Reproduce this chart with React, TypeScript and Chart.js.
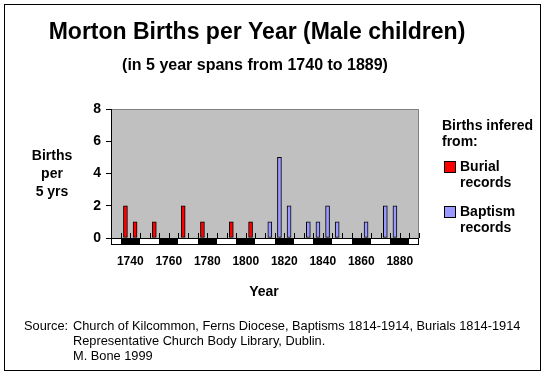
import React, { useEffect, useRef } from 'react';
import { Chart, registerables } from 'chart.js';

Chart.register(...registerables);

// ---- data ----
const categories = [
  '1735', '1740', '1745', '1750', '1755', '1760', '1765', '1770',
  '1775', '1780', '1785', '1790', '1795', '1800', '1805', '1810',
  '1815', '1820', '1825', '1830', '1835', '1840', '1845', '1850',
  '1855', '1860', '1865', '1870', '1875', '1880', '1885', '1890',
];
const burialRecords = [
  0, 2, 1, 0, 1, 0, 0, 2,
  0, 1, 0, 0, 1, 0, 1, 0,
  0, 0, 0, 0, 0, 0, 0, 0,
  0, 0, 0, 0, 0, 0, 0, 0,
];
const baptismRecords = [
  0, 0, 0, 0, 0, 0, 0, 0,
  0, 0, 0, 0, 0, 0, 0, 0,
  1, 5, 2, 0, 1, 1, 2, 1,
  0, 0, 1, 0, 2, 2, 0, 0,
];
const decadeLabels = ['1740', '1760', '1780', '1800', '1820', '1840', '1860', '1880'];
const yMin = 0;
const yMax = 8;
const yStep = 2;

const titleText = 'Morton Births per Year (Male children)';
const subtitleText = '(in 5 year spans from 1740 to 1889)';
const yTitleLines = ['Births', 'per', '5 yrs'];
const xTitleText = 'Year';
const legendTitleLines = ['Births infered', 'from:'];
const seriesNames = [['Burial', 'records'], ['Baptism', 'records']];
const seriesColors = ['#FF0000', '#9999FF'];
const sourceLabel = 'Source:';
const sourceLines = [
  'Church of Kilcommon, Ferns Diocese, Baptisms 1814-1914, Burials 1814-1914',
  'Representative Church Body Library, Dublin.',
  'M. Bone 1999',
];

const FONT = '"Liberation Sans", Arial, Helvetica, sans-serif';

const decor = {
  id: 'decor',
  beforeDraw(chart: any) {
    const { ctx, chartArea: a } = chart;
    ctx.save();
    ctx.fillStyle = '#ffffff';
    ctx.fillRect(0, 0, chart.width, chart.height);
    ctx.strokeStyle = '#000000';
    ctx.lineWidth = 1;
    ctx.strokeRect(4.5, 4.5, 536, 366);
    ctx.fillStyle = '#C0C0C0';
    ctx.fillRect(a.left, a.top, a.right - a.left, a.bottom - a.top);
    ctx.strokeStyle = '#808080';
    ctx.beginPath();
    ctx.moveTo(a.left, a.top + 0.5);
    ctx.lineTo(a.right - 0.5, a.top + 0.5);
    ctx.lineTo(a.right - 0.5, a.bottom);
    ctx.stroke();
    ctx.restore();
  },
  afterDatasetsDraw(chart: any) {
    const { ctx, chartArea: a } = chart;
    const xs = chart.scales.x;
    const half = (xs.getPixelForValue(1) - xs.getPixelForValue(0)) / 2;
    ctx.save();
    // decade band
    const bandTop = Math.round(a.bottom);
    const bandH = 6;
    categories.forEach((c, i) => {
      const cx = xs.getPixelForValue(i);
      const x0 = Math.round(cx - half);
      const x1 = Math.round(cx + half);
      const yr = parseInt(c, 10);
      ctx.fillStyle = Math.floor(yr / 10) % 2 === 0 ? '#000000' : '#ffffff';
      ctx.fillRect(x0, bandTop, x1 - x0, bandH);
    });
    ctx.strokeStyle = '#000000';
    ctx.lineWidth = 1;
    ctx.strokeRect(Math.round(a.left) + 0.5, bandTop + 0.5, Math.round(a.right - a.left) - 1, bandH);
    // axis line
    ctx.beginPath();
    ctx.moveTo(a.left, bandTop + 0.5);
    ctx.lineTo(a.right, bandTop + 0.5);
    ctx.stroke();
    // category tick marks (inside)
    ctx.beginPath();
    for (let i = 0; i < categories.length; i++) {
      const x = Math.round(xs.getPixelForValue(i) + half) + 0.5;
      ctx.moveTo(x, bandTop - 5);
      ctx.lineTo(x, bandTop);
    }
    ctx.stroke();

    ctx.fillStyle = '#000000';
    ctx.textBaseline = 'middle';
    // decade labels
    ctx.textAlign = 'center';
    ctx.font = `bold 12px ${FONT}`;
    decadeLabels.forEach((lab) => {
      const i = categories.indexOf(lab);
      const x = (xs.getPixelForValue(i) + xs.getPixelForValue(i + 1)) / 2;
      ctx.fillText(lab, x, 262);
    });
    // titles
    ctx.font = `bold 23px ${FONT}`;
    ctx.fillText(titleText, 257, 33);
    ctx.font = `bold 16px ${FONT}`;
    ctx.fillText(subtitleText, 255, 66);
    ctx.font = `bold 14px ${FONT}`;
    ctx.fillText(xTitleText, 264, 292);
    yTitleLines.forEach((l, k) => ctx.fillText(l, 52, 156 + k * 18));
    // legend
    ctx.textAlign = 'left';
    legendTitleLines.forEach((l, k) => ctx.fillText(l, 442, 126 + k * 16));
    seriesNames.forEach((lines, s) => {
      const top = 161 + s * 45;
      ctx.fillStyle = seriesColors[s];
      ctx.fillRect(444, top, 11, 11);
      ctx.strokeStyle = '#000000';
      ctx.strokeRect(444.5, top + 0.5, 11, 11);
      ctx.fillStyle = '#000000';
      lines.forEach((l, k) => ctx.fillText(l, 460, top + 6 + k * 16));
    });
    // source
    ctx.font = `12.8px ${FONT}`;
    ctx.fillText(sourceLabel, 24, 326);
    sourceLines.forEach((l, k) => ctx.fillText(l, 73, 326 + k * 15));
    ctx.restore();
  },
};

export default function App() {
  const ref = useRef<HTMLCanvasElement | null>(null);
  useEffect(() => {
    document.body.style.margin = '0';
    const canvas = ref.current!;
    const toNull = (v: number) => (v === 0 ? null : v);
    const chart = new Chart(canvas, {
      type: 'bar',
      data: {
        labels: categories,
        datasets: [
          {
            label: 'Burial records',
            data: burialRecords.map(toNull),
            backgroundColor: seriesColors[0],
            borderColor: '#000000',
            borderWidth: 1,
            borderSkipped: false,
            barThickness: 4,
            grouped: false,
          } as any,
          {
            label: 'Baptism records',
            data: baptismRecords.map(toNull),
            backgroundColor: seriesColors[1],
            borderColor: '#000000',
            borderWidth: 1,
            borderSkipped: false,
            barThickness: 4,
            grouped: false,
          } as any,
        ],
      },
      options: {
        animation: false,
        responsive: false,
        devicePixelRatio: 1,
        layout: { padding: { left: 71, right: 129, top: 109, bottom: 138 } },
        plugins: { legend: { display: false }, tooltip: { enabled: false }, title: { display: false } },
        scales: {
          x: { display: false, offset: true },
          y: {
            min: yMin,
            max: yMax,
            ticks: { stepSize: yStep, color: '#000000', font: { family: FONT, size: 14, weight: 'bold' }, padding: 5 },
            grid: { drawOnChartArea: false, drawTicks: true, tickLength: 5, color: '#000000' },
            border: { color: '#000000', width: 1 },
            afterFit: (scale: any) => { scale.width = 40; },
          },
        },
      },
      plugins: [decor],
    });
    return () => chart.destroy();
  }, []);
  return (
    <canvas
      ref={ref}
      width={548}
      height={376}
      style={{ position: 'fixed', left: 0, top: 0, width: 548, height: 376 }}
    />
  );
}
